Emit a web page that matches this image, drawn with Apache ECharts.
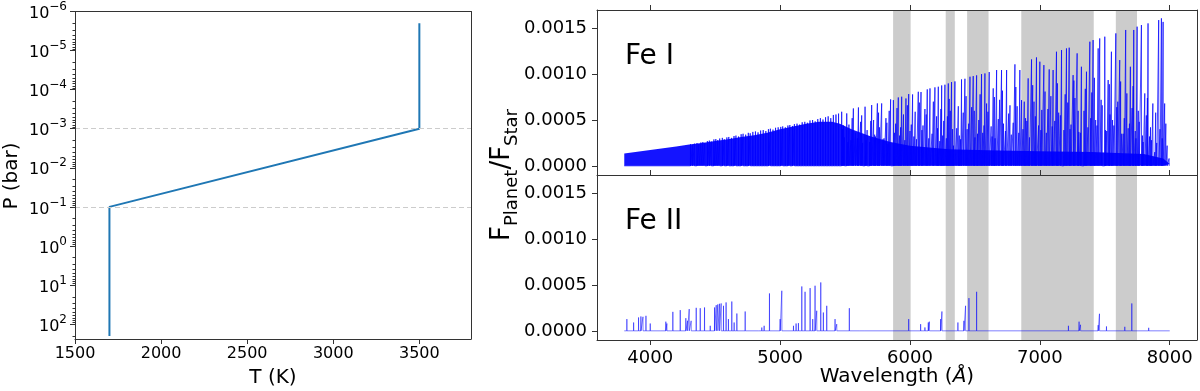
<!DOCTYPE html>
<html lang="en">
<head>
    <meta charset="utf-8">
    <title></title>
    <script src="https://cdn.jsdelivr.net/npm/echarts@6/dist/echarts.min.js"></script>
    <style>
        html, body {margin: 0; padding: 0; background: #fff;}
        #main {width: 1200px; height: 391px;}
    </style>
</head>
<body>
<div id="main"></div>
<script type="text/javascript">

    // T-P profile
    var tpTemp = [3500, 3500, 1700, 1700];
    var tpPress = [2e-6, 1e-3, 1e-1, 200];
    var layerPress = [1e-3, 1e-1];           // dashed guides
    var tempTicks = [1500, 2000, 2500, 3000, 3500];
    var pressTicks = [1e-6, 1e-5, 1e-4, 1e-3, 1e-2, 1e-1, 1, 10, 100];

    // spectra axes
    var wlTicks = [4000, 5000, 6000, 7000, 8000];
    var fluxTicks = [0, 0.0005, 0.0010, 0.0015];

    // telluric bands (Angstrom)
    var bandStart = [5870, 6275, 6440, 6857, 7585];
    var bandEnd = [6005, 6345, 6605, 7415, 7748];

    // Fe I: top of the dense line forest
    var feIForestWl = [3800, 3900, 4000, 4100, 4200, 4300, 4400, 4500, 4600, 4700, 4800, 4900, 5000, 5100, 5200,
        5300, 5400, 5460, 5550, 5700, 5850, 6000, 6300, 6600, 7000, 7400, 7800, 7950, 8000];
    var feIForestTop = [1.35e-4, 1.53e-4, 1.72e-4, 1.92e-4, 2.12e-4, 2.33e-4, 2.5e-4, 2.7e-4, 2.9e-4, 3.15e-4,
        3.35e-4, 3.6e-4, 4.0e-4, 4.3e-4, 4.6e-4, 4.8e-4, 4.8e-4, 4.6e-4, 4.0e-4, 3.2e-4, 2.6e-4, 2.2e-4,
        1.8e-4, 1.7e-4, 1.6e-4, 1.5e-4, 1.3e-4, 0.8e-4, 0.2e-4];

    // Fe I: individual lines
    var feILineWl = [
        4310, 4325, 4340, 4360, 4375, 4390, 4405, 4420, 4440, 4455,
        4470, 4490, 4505, 4520, 4535, 4555, 4570, 4590, 4605, 4625,
        4645, 4660, 4680, 4700, 4715, 4735, 4755, 4770, 4790, 4810,
        4830, 4850, 4870, 4890, 4910, 4925, 4945, 4965, 4985, 5005,
        5020, 5040, 5060, 5075, 5095, 5110, 5130, 5150, 5170, 5190,
        5210, 5230, 5250, 5270, 5290, 5310, 5330, 5350, 5370, 5390,
        5410, 5430, 5450,
        5474, 5513, 5564, 5603, 5654, 5705, 5749, 5782, 5851, 5872,
        5910, 5936, 5969, 5990, 6020, 6064, 6085, 6133, 6154, 6192,
        6218, 6244, 6269, 6295, 6320, 6346, 6397, 6423, 6462, 6487,
        6513, 6551, 6577, 6610, 6641, 6667, 6705, 6744, 6808, 6846,
        6859, 6910, 6936, 6974, 7000, 7031, 7072, 7102, 7128, 7167,
        7205, 7226, 7256, 7287, 7320, 7359, 7385, 7410, 7449, 7461,
        7500, 7526, 7551, 7585, 7615, 7661, 7697, 7723, 7749, 7782,
        7808, 7833, 7859, 7885, 7915, 7936, 7949, 7961, 7995,
        5480, 5495, 5530, 5545, 5580, 5620, 5635, 5670, 5690, 5720,
        5735, 5765, 5800, 5815, 5830, 5890, 5920, 5950, 6000, 6040,
        6050, 6100, 6115, 6170, 6205, 6230, 6260, 6280, 6310, 6335,
        6360, 6380, 6410, 6440, 6475, 6500, 6530, 6560, 6590, 6625,
        6655, 6690, 6720, 6760, 6780, 6825, 6870, 6890, 6920, 6955,
        6990, 7015, 7050, 7085, 7115, 7145, 7185, 7215, 7240, 7270,
        7300, 7340, 7370, 7400, 7430, 7480, 7515, 7540, 7570, 7600,
        7630, 7650, 7680, 7710, 7740, 7765, 7795, 7820, 7845, 7870,
        7900, 7925, 7980,
        5488, 5522, 5555, 5595, 5628, 5662, 5698, 5728, 5758, 5792,
        5822, 5840, 5880, 5900, 5928, 5960, 5980, 6010, 6030, 6072,
        6092, 6125, 6145, 6180, 6212, 6238, 6252, 6288, 6302, 6328,
        6372, 6390, 6432, 6452, 6495, 6520, 6540, 6570, 6600, 6632,
        6650, 6680, 6712, 6735, 6770, 6795, 6815, 6838, 6880, 6900,
        6945, 6965, 7008, 7040, 7062, 7095, 7135, 7158, 7195, 7232,
        7262, 7295, 7312, 7350, 7392, 7420, 7440, 7472, 7505, 7535,
        7560, 7592, 7622, 7642, 7670, 7690, 7718, 7735, 7758, 7790,
        7828, 7852, 7892, 7942, 7970
    ];
    var feILineFlux = [
        2.35e-4, 2.3e-4, 2.42e-4, 2.48e-4, 2.4e-4, 2.55e-4, 2.6e-4, 2.5e-4, 2.7e-4, 2.75e-4,
        2.65e-4, 2.88e-4, 2.92e-4, 2.8e-4, 2.98e-4, 3.05e-4, 2.9e-4, 3.1e-4, 3.15e-4, 3.05e-4,
        3.25e-4, 3.3e-4, 3.2e-4, 3.45e-4, 3.5e-4, 3.4e-4, 3.6e-4, 3.55e-4, 3.7e-4, 3.75e-4,
        3.65e-4, 3.85e-4, 3.9e-4, 3.8e-4, 4.0e-4, 4.05e-4, 3.95e-4, 4.15e-4, 4.2e-4, 4.25e-4,
        4.3e-4, 4.2e-4, 4.4e-4, 4.45e-4, 4.35e-4, 4.55e-4, 4.6e-4, 4.5e-4, 4.75e-4, 4.8e-4,
        4.7e-4, 4.95e-4, 5.0e-4, 4.85e-4, 5.1e-4, 5.2e-4, 5.05e-4, 5.3e-4, 5.4e-4, 5.2e-4,
        5.55e-4, 5.6e-4, 5.7e-4,
        5.9e-4, 5.72e-4, 6.26e-4, 6.37e-4, 6.45e-4, 6.63e-4, 6.81e-4, 6.81e-4, 7.25e-4, 7.17e-4,
        7.46e-4, 7.54e-4, 7.35e-4, 7.83e-4, 7.79e-4, 8.08e-4, 8.05e-4, 8.34e-4, 8.45e-4, 8.56e-4,
        8.63e-4, 8.77e-4, 8.85e-4, 8.99e-4, 9.14e-4, 9.21e-4, 9.43e-4, 9.5e-4, 9.72e-4, 9.79e-4,
        9.87e-4, 10.01e-4, 10.08e-4, 10.23e-4, 8.45e-4, 10.45e-4, 10.45e-4, 10.45e-4, 11.07e-4, 10.45e-4,
        7.17e-4, 9.54e-4, 11.61e-4, 11.83e-4, 11.36e-4, 10.99e-4, 10.52e-4, 10.45e-4, 12.45e-4, 12.63e-4,
        12.81e-4, 12.89e-4, 9.9e-4, 12.27e-4, 10.81e-4, 10.27e-4, 13.54e-4, 13.72e-4, 12.81e-4, 13.9e-4,
        14.09e-4, 9.36e-4, 12.45e-4, 14.45e-4, 11.54e-4, 14.82e-4, 10.81e-4, 14.82e-4, 15.18e-4, 15.36e-4,
        7.9e-4, 15.54e-4, 2.8e-4, 1.5e-4, 15.9e-4, 16.09e-4, 15.7e-4, 6.8e-4, 0.8e-4,
        4.0e-4, 3.1e-4, 4.5e-4, 2.8e-4, 3.6e-4, 4.8e-4, 2.5e-4, 3.9e-4, 2.6e-4, 5.0e-4,
        3.2e-4, 4.2e-4, 3.0e-4, 5.2e-4, 2.4e-4, 4.6e-4, 3.3e-4, 5.6e-4, 3.8e-4, 5.9e-4,
        2.9e-4, 4.4e-4, 6.2e-4, 3.5e-4, 5.4e-4, 2.7e-4, 4.9e-4, 3.0e-4, 6.0e-4, 2.2e-4,
        4.1e-4, 3.3e-4, 5.8e-4, 4.0e-4, 6.4e-4, 3.1e-4, 5.0e-4, 3.6e-4, 6.8e-4, 4.3e-4,
        3.0e-4, 7.2e-4, 4.6e-4, 5.7e-4, 3.4e-4, 6.5e-4, 4.0e-4, 5.2e-4, 3.1e-4, 7.0e-4,
        4.4e-4, 6.1e-4, 3.6e-4, 7.6e-4, 4.9e-4, 5.8e-4, 3.9e-4, 6.9e-4, 4.5e-4, 7.4e-4,
        3.7e-4, 6.0e-4, 4.2e-4, 8.0e-4, 5.0e-4, 6.6e-4, 3.8e-4, 5.6e-4, 4.4e-4, 7.0e-4,
        3.5e-4, 5.2e-4, 4.1e-4, 6.3e-4, 3.0e-4, 4.8e-4, 2.6e-4, 5.5e-4, 3.2e-4, 6.8e-4,
        2.5e-4, 4.0e-4, 2.2e-4,
        4.4e-4, 2.6e-4, 5.2e-4, 3.0e-4, 5.5e-4, 2.8e-4, 4.9e-4, 3.4e-4, 5.8e-4, 2.9e-4,
        4.7e-4, 6.0e-4, 3.6e-4, 6.3e-4, 4.2e-4, 2.8e-4, 6.6e-4, 4.5e-4, 3.2e-4, 6.9e-4,
        3.9e-4, 5.6e-4, 3.0e-4, 7.0e-4, 4.1e-4, 6.2e-4, 3.3e-4, 5.4e-4, 7.3e-4, 4.0e-4,
        6.5e-4, 2.9e-4, 7.6e-4, 4.6e-4, 6.0e-4, 3.5e-4, 7.8e-4, 4.4e-4, 5.9e-4, 3.2e-4,
        7.5e-4, 5.1e-4, 8.2e-4, 3.8e-4, 6.6e-4, 4.7e-4, 8.6e-4, 3.6e-4, 7.0e-4, 4.9e-4,
        8.8e-4, 5.4e-4, 3.9e-4, 8.1e-4, 6.2e-4, 4.3e-4, 9.0e-4, 5.5e-4, 7.8e-4, 4.0e-4,
        9.3e-4, 6.0e-4, 3.6e-4, 8.4e-4, 5.2e-4, 9.6e-4, 4.4e-4, 7.2e-4, 3.9e-4, 8.9e-4,
        5.0e-4, 6.4e-4, 9.2e-4, 3.5e-4, 7.9e-4, 4.6e-4, 8.7e-4, 3.8e-4, 6.0e-4, 3.3e-4,
        7.4e-4, 4.2e-4, 5.8e-4, 3.0e-4, 4.6e-4
    ];

    // Fe II lines
    var feIILineWl = [
        3820, 3872, 3910, 3928, 3944, 3967, 4000, 4077, 4120, 4128,
        4174, 4231, 4274, 4287, 4300, 4315, 4354, 4385, 4418, 4462,
        4495, 4508, 4520, 4533, 4546, 4564, 4584, 4602, 4628, 4646,
        4667, 4731, 4833, 4859, 4877, 4918, 5000, 5013, 5103, 5123,
        5141, 5167, 5192, 5231, 5251, 5269, 5282, 5313, 5333, 5359,
        5423, 5436, 5533, 5615, 5654, 5990, 6082, 6115, 6141, 6149,
        6236, 6246, 6369, 6415, 6428, 6454, 6513, 7220, 7302, 7313,
        7449, 7459, 7513, 7654, 7708, 7838
    ];
    var feIILineFlux = [
        1.28e-4, 0.91e-4, 1.46e-4, 1.57e-4, 1.53e-4, 1.64e-4, 0.8e-4, 0.18e-4, 1.0e-4, 0.8e-4,
        2.07e-4, 2.26e-4, 1.38e-4, 1.1e-4, 2.37e-4, 1.09e-4, 2.51e-4, 2.47e-4, 2.55e-4, 0.55e-4,
        2.55e-4, 2.8e-4, 2.88e-4, 2.95e-4, 2.99e-4, 2.73e-4, 3.1e-4, 1.28e-4, 3.2e-4, 0.91e-4,
        1.89e-4, 2.11e-4, 0.18e-4, 0.36e-4, 0.55e-4, 4.08e-4, 1.28e-4, 4.37e-4, 0.55e-4, 0.8e-4,
        0.84e-4, 4.84e-4, 4.26e-4, 4.66e-4, 1.28e-4, 4.92e-4, 2.19e-4, 5.28e-4, 2.0e-4, 2.73e-4,
        1.28e-4, 0.73e-4, 2.47e-4, 0.18e-4, 0.18e-4, 1.28e-4, 0.73e-4, 0.37e-4, 0.91e-4, 1.0e-4,
        1.28e-4, 2.11e-4, 0.91e-4, 1.09e-4, 2.73e-4, 3.57e-4, 4.26e-4, 0.55e-4, 1.0e-4, 0.66e-4,
        0.62e-4, 1.86e-4, 0.48e-4, 0.44e-4, 2.99e-4, 0.33e-4
    ];

    var FONT = 'DejaVu Sans';
    var AXIS_COLOR = '#333';

    // minor ticks of the log axis: 2..9 x each decade
    var pressMinor = [];
    pressTicks.forEach(function (p) {
        for (var m = 2; m <= 9; m++) {
            if (p * m < 240) pressMinor.push(p * m);
        }
    });

    function zip(a, b) {
        return a.map(function (v, i) { return [v, b[i]]; });
    }

    // one polyline through all lines, like a plotted spectrum
    function spikePath(wl, flux, start, end) {
        var idx = wl.map(function (v, i) { return i; }).sort(function (a, b) { return wl[a] - wl[b]; });
        var pts = [[start, 0]];
        idx.forEach(function (i) {
            pts.push([wl[i] - 0.8, 0], [wl[i], flux[i]], [wl[i] + 0.8, 0]);
        });
        pts.push([end, 0]);
        return pts;
    }

    var bands = bandStart.map(function (s, i) {
        return [{xAxis: s}, {xAxis: bandEnd[i]}];
    });

    var lineStyle = {color: AXIS_COLOR, width: 1};

    function plainAxis(extra) {
        var a = {
            type: 'value',
            z: 10,
            splitLine: {show: false},
            axisLine: {show: true, onZero: false, lineStyle: lineStyle},
            axisTick: {show: false},
            axisLabel: {show: false}
        };
        for (var k in extra) a[k] = extra[k];
        return a;
    }

    function plain(v) { return String(v); }

    var myChart = echarts.init(document.getElementById('main'));
    var option = {
        backgroundColor: '#fff',
        animation: false,
        grid: [
            {left: 75, top: 11.5, width: 396, height: 327.5},
            {left: 597, top: 10, width: 600, height: 165},
            {left: 597, top: 175, width: 600, height: 165}
        ],
        xAxis: [
            plainAxis({gridIndex: 0, min: 1500, max: 3800, position: 'bottom',
                axisTick: {show: true, customValues: tempTicks, length: 5, lineStyle: lineStyle},
                axisLabel: {show: true, customValues: tempTicks, fontSize: 16, margin: 7, color: '#000', fontFamily: FONT, formatter: plain}
            }),
            plainAxis({gridIndex: 0, min: 1500, max: 3800, position: 'top'}),
            plainAxis({gridIndex: 1, min: 3590, max: 8210, position: 'top',
                axisTick: {show: true, customValues: wlTicks, length: 5, lineStyle: lineStyle}
            }),
            plainAxis({gridIndex: 2, min: 3590, max: 8210, position: 'bottom',
                axisTick: {show: true, customValues: wlTicks, length: 5, lineStyle: lineStyle},
                axisLabel: {show: true, customValues: wlTicks, fontSize: 18, margin: 9, color: '#000', fontFamily: FONT, formatter: plain}
            }),
            plainAxis({gridIndex: 2, min: 3590, max: 8210, position: 'top',
                axisTick: {show: true, customValues: wlTicks, length: 5, lineStyle: lineStyle}
            })
        ],
        yAxis: [
            plainAxis({gridIndex: 0, type: 'log', logBase: 10, min: 1e-6, max: 240, inverse: true, position: 'left',
                axisTick: {show: true, customValues: pressTicks, length: 5, lineStyle: lineStyle},
                axisLabel: {
                    show: true, customValues: pressTicks, margin: 8,
                    formatter: function (v) {
                        var e = Math.round(Math.log10(v));
                        return '{b|10}{s|' + (e < 0 ? '\u2212' + (-e) : e) + '}';
                    },
                    rich: {
                        b: {fontSize: 16, fontFamily: FONT, color: '#000', padding: [5, 0, 0, 0], verticalAlign: 'bottom'},
                        s: {fontSize: 12, fontFamily: FONT, color: '#000', verticalAlign: 'top'}
                    }
                }
            }),
            plainAxis({gridIndex: 0, type: 'log', logBase: 10, min: 1e-6, max: 240, inverse: true, position: 'left',
                axisLine: {show: false},
                axisTick: {show: true, customValues: pressMinor, length: 2.5, lineStyle: lineStyle}
            }),
            plainAxis({gridIndex: 0, type: 'log', logBase: 10, min: 1e-6, max: 240, inverse: true, position: 'right'}),
            plainAxis({gridIndex: 1, min: -0.0001, max: 0.0017, position: 'left',
                axisTick: {show: true, customValues: fluxTicks, length: 5, lineStyle: lineStyle},
                axisLabel: {show: true, customValues: fluxTicks, fontSize: 18, margin: 10, color: '#000', fontFamily: FONT,
                    formatter: function (v) { return v.toFixed(4); }}
            }),
            plainAxis({gridIndex: 1, min: -0.0001, max: 0.0017, position: 'right'}),
            plainAxis({gridIndex: 2, min: -0.0001, max: 0.0017, position: 'left',
                axisTick: {show: true, customValues: fluxTicks, length: 5, lineStyle: lineStyle},
                axisLabel: {show: true, customValues: fluxTicks, fontSize: 18, margin: 10, color: '#000', fontFamily: FONT,
                    formatter: function (v) { return v.toFixed(4); }}
            }),
            plainAxis({gridIndex: 2, min: -0.0001, max: 0.0017, position: 'right'})
        ],
        graphic: [
            {type: 'text', x: 12, y: 176, rotation: Math.PI / 2,
                style: {text: 'P (bar)', font: '20px "DejaVu Sans"', fill: '#000', textAlign: 'center', textVerticalAlign: 'middle'}},
            {type: 'text', x: 273, y: 378,
                style: {text: 'T (K)', font: '20px "DejaVu Sans"', fill: '#000', textAlign: 'center', textVerticalAlign: 'middle'}},
            {type: 'text', x: 897, y: 377,
                style: {
                    text: '{n|Wavelength (}{i|\u00c5}{n|)}', fill: '#000', textAlign: 'center', textVerticalAlign: 'middle',
                    rich: {
                        n: {fontSize: 20, fontFamily: FONT, fill: '#000'},
                        i: {fontSize: 20, fontFamily: FONT, fontStyle: 'italic', fill: '#000'}
                    }
                }},
            {type: 'text', x: 505, y: 175, rotation: Math.PI / 2,
                style: {
                    text: '{m|F}{s|Planet}{m|/F}{s|Star}', fill: '#000', textAlign: 'center', textVerticalAlign: 'middle',
                    rich: {
                        m: {fontSize: 26, fontFamily: FONT, fill: '#000', padding: [0, 0, 6, 0], verticalAlign: 'top'},
                        s: {fontSize: 18, fontFamily: FONT, fill: '#000', verticalAlign: 'bottom'}
                    }
                }},
            {type: 'text', x: 625, y: 57,
                style: {text: 'Fe I', font: '28px "DejaVu Sans"', fill: '#000', textAlign: 'left', textVerticalAlign: 'middle'}},
            {type: 'text', x: 625, y: 222,
                style: {text: 'Fe II', font: '28px "DejaVu Sans"', fill: '#000', textAlign: 'left', textVerticalAlign: 'middle'}}
        ],
        series: [
            {
                name: 'TP',
                type: 'line',
                xAxisIndex: 0,
                yAxisIndex: 0,
                data: zip(tpTemp, tpPress),
                showSymbol: false,
                symbol: 'none',
                lineStyle: {color: '#1f77b4', width: 2},
                markLine: {
                    silent: true,
                    symbol: ['none', 'none'],
                    label: {show: false},
                    lineStyle: {color: '#cccccc', type: [5, 3], width: 1},
                    data: layerPress.map(function (p) {
                        return [{coord: [1500, p]}, {coord: [3800, p]}];
                    })
                }
            },
            {
                name: 'Fe I forest',
                type: 'line',
                xAxisIndex: 2,
                yAxisIndex: 3,
                data: zip(feIForestWl, feIForestTop),
                showSymbol: false,
                symbol: 'none',
                lineStyle: {width: 0},
                areaStyle: {color: 'rgb(0,0,255)', opacity: 0.92, origin: 'auto'},
                markArea: {
                    silent: true,
                    itemStyle: {color: '#cccccc', opacity: 1},
                    data: bands
                }
            },
            {
                name: 'Fe I',
                type: 'line',
                xAxisIndex: 2,
                yAxisIndex: 3,
                data: spikePath(feILineWl, feILineFlux, 3800, 8000),
                showSymbol: false,
                symbol: 'none',
                lineStyle: {color: 'rgba(0,0,255,0.7)', width: 1}
            },
            {
                name: 'Fe II',
                type: 'line',
                xAxisIndex: 3,
                yAxisIndex: 5,
                data: spikePath(feIILineWl, feIILineFlux, 3800, 8000),
                showSymbol: false,
                symbol: 'none',
                lineStyle: {color: 'rgba(0,0,255,0.5)', width: 1},
                markArea: {
                    silent: true,
                    itemStyle: {color: '#cccccc', opacity: 1},
                    data: bands
                }
            }
        ]
    };
    myChart.setOption(option);

</script>
</body>
</html>
